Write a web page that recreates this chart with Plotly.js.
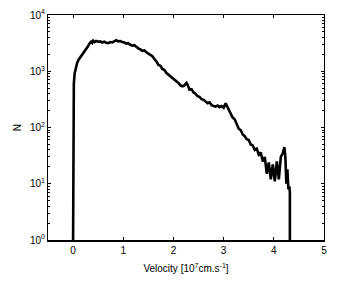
<!DOCTYPE html>
<html>
<head>
<meta charset="utf-8">
<script src="https://cdn.plot.ly/plotly-3.0.1.min.js"></script>
<style>
  html, body { margin: 0; padding: 0; background: #fff; }
  #chart { width: 339px; height: 291px; }
</style>
</head>
<body>
<div id="chart"></div>
<script>
// Velocity distribution
const velocity = [
  0, 0, 0.005, 0.015, 0.03, 0.05, 0.08, 0.11, 0.14, 0.18, 0.22, 0.26, 0.30, 0.33, 0.36, 0.38,
  0.40, 0.43, 0.46, 0.50, 0.54, 0.58, 0.62, 0.66, 0.70, 0.74, 0.78, 0.82, 0.86, 0.90, 0.94, 0.98,
  1.02, 1.06, 1.10, 1.14, 1.18, 1.22, 1.26, 1.30, 1.34, 1.38, 1.42, 1.46, 1.50, 1.54, 1.58, 1.62,
  1.66, 1.70, 1.74, 1.78, 1.82, 1.86, 1.90, 1.94, 1.98, 2.02, 2.06, 2.10, 2.14, 2.18, 2.22, 2.26,
  2.28, 2.32, 2.36, 2.40, 2.44, 2.48, 2.52, 2.56, 2.60, 2.64, 2.68, 2.72, 2.76, 2.80, 2.84, 2.88,
  2.92, 2.96, 3.00, 3.04, 3.07, 3.10, 3.14, 3.18, 3.22, 3.26, 3.30, 3.34, 3.38, 3.42, 3.46, 3.50,
  3.54, 3.58, 3.62, 3.66, 3.70, 3.74, 3.78, 3.82, 3.86, 3.90, 3.94, 3.98, 4.02, 4.06, 4.10, 4.14,
  4.18, 4.21, 4.23, 4.25, 4.27, 4.29, 4.31, 4.32, 4.32
];
const counts = [
  1, 100, 300, 600, 900, 1150, 1400, 1600, 1750, 1950, 2150, 2450, 2800, 3150, 3350, 3200,
  3500, 3300, 3450, 3350, 3400, 3250, 3350, 3200, 3150, 3300, 3250, 3400, 3550, 3400, 3450, 3300,
  3250, 3100, 3150, 2950, 2850, 2900, 2700, 2550, 2450, 2300, 2350, 2150, 2050, 1950, 1850, 1650,
  1500, 1300, 1250, 1100, 1050, 930, 870, 820, 740, 700, 650, 620, 560, 540, 560, 620,
  580, 470, 480, 420, 400, 360, 350, 320, 310, 290, 270, 280, 250, 240, 235, 245,
  230, 240, 225, 270, 240, 200, 180, 150, 140, 115, 95, 90, 75, 70, 62, 60,
  50, 48, 40, 42, 33, 36, 25, 30, 15, 24, 12, 22, 11, 25, 12, 30,
  35, 45, 30, 10, 18, 8, 9, 7, 1
];

// axis ticks
const xTicks = [0, 1, 2, 3, 4, 5];
const yTicks = [1, 10, 100, 1000, 10000];
const yTickText = ['10<sup>0</sup>', '10<sup>1</sup>', '10<sup>2</sup>', '10<sup>3</sup>', '10<sup>4</sup>'];

const minorTicks = [];
for (let p = 0; p < 4; p++) {
  for (let d = 2; d <= 9; d++) minorTicks.push(d * Math.pow(10, p));
}

const font = { family: 'Liberation Sans, Arial, sans-serif', size: 10, color: '#000' };

const trace = {
  x: velocity,
  y: counts,
  type: 'scatter',
  mode: 'lines',
  line: { color: '#000', width: 2.6 },
  hoverinfo: 'skip'
};

const layout = {
  width: 339,
  height: 291,
  margin: { l: 48, r: 15, t: 15, b: 51 },
  paper_bgcolor: '#fff',
  plot_bgcolor: '#fff',
  showlegend: false,
  font: font,
  xaxis: {
    range: [-0.5, 5],
    tickvals: xTicks,
    ticktext: xTicks.map(String),
    ticks: 'inside',
    ticklen: 3,
    tickcolor: '#000',
    showline: true,
    linecolor: '#000',
    linewidth: 1.5,
    mirror: 'ticks',
    showgrid: false,
    zeroline: false,
    tickfont: font,
    title: { text: 'Velocity [10<sup>7</sup>cm.s<sup>-1</sup>]', font: font, standoff: 10 }
  },
  yaxis: {
    type: 'log',
    range: [0, 4],
    tickvals: yTicks,
    ticktext: yTickText,
    ticks: 'inside',
    ticklen: 3,
    tickcolor: '#000',
    showline: true,
    linecolor: '#000',
    linewidth: 1,
    mirror: 'ticks',
    showgrid: false,
    zeroline: false,
    tickfont: font,
    minor: { tickvals: minorTicks, ticks: 'inside', ticklen: 2, tickcolor: '#000', showgrid: false },
    title: { text: 'N', font: font, standoff: 6 }
  }
};

Plotly.newPlot('chart', [trace], layout, { displayModeBar: false, staticPlot: true });
</script>
</body>
</html>
